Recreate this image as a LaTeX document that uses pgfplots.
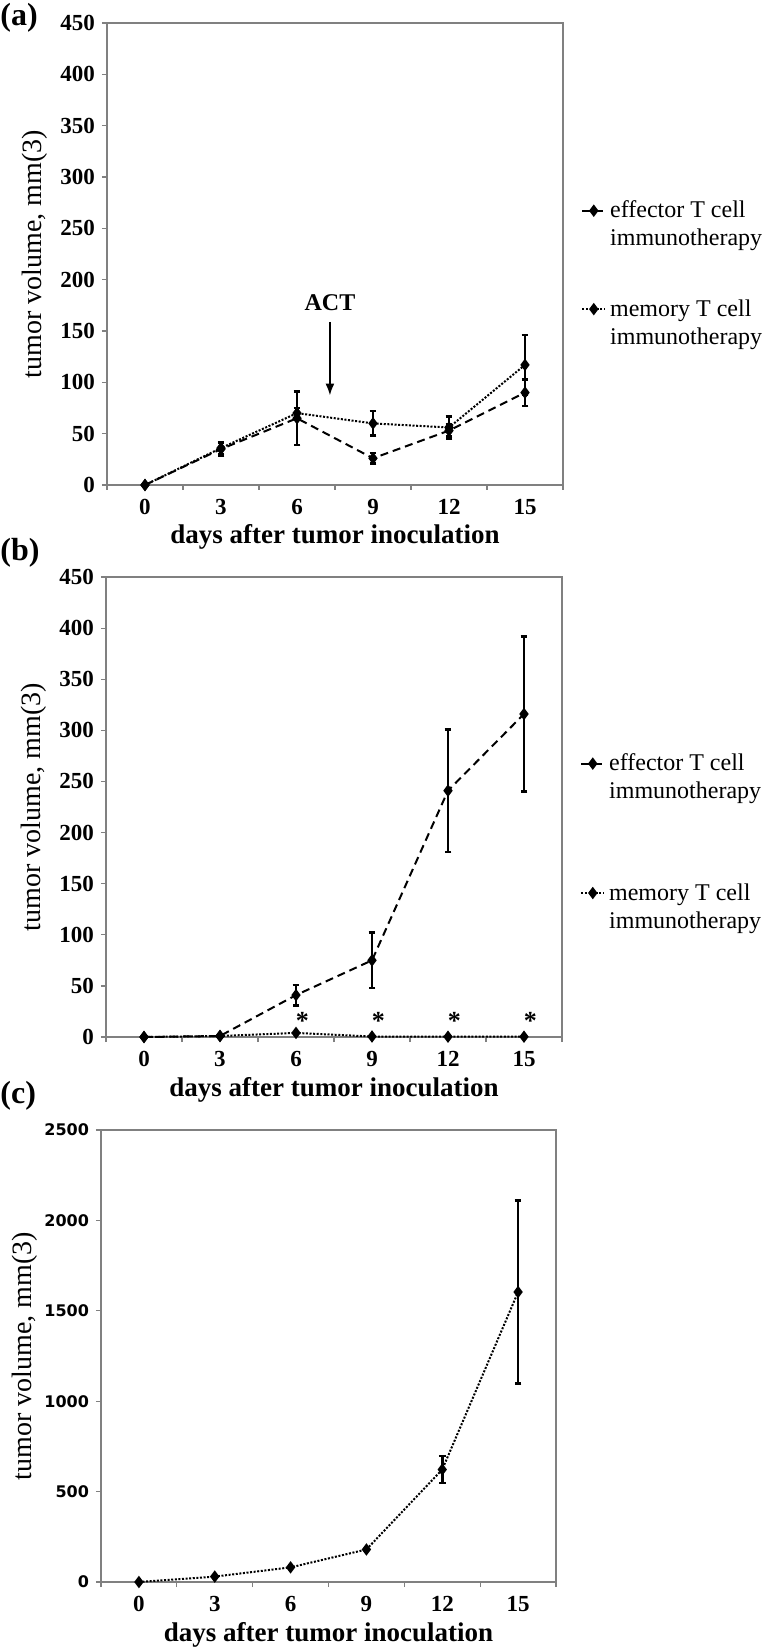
\documentclass[border=0pt]{standalone}
\usepackage{fontspec}
\setmainfont{Liberation Serif}
\newfontfamily\dvsans{DejaVu Sans}
\usepackage{pgfplots}
\usepackage{pgfplotstable}
\pgfplotsset{compat=1.18}
\usetikzlibrary{arrows.meta}

\pgfplotstableread{
x y e
0 0 0
3 35 6
6 65 26
9 26 5
12 53 6
15 90 13
}\effA
\pgfplotstableread{
x y e
0 0 0
3 36 6
6 70 5
9 60 12
12 56 11
15 117 29
}\memA
\pgfplotstableread{
x y e
0 0 0
3 1 0
6 41 10
9 75 27
12 241 60
15 316 76
}\effB
\pgfplotstableread{
x y e
0 0 0
3 1 0
6 4 0
9 0.5 0
12 0.3 0
15 0.3 0
}\memB
\pgfplotstableread{
x y e
0 0 0
3 30 0
6 81 0
9 180 0
12 622 74
15 1604 506
}\memC

\definecolor{axgray}{RGB}{128,128,128}
\newcommand{\twolines}[2]{\begin{tabular}[t]{@{}l@{}}#1\\#2\end{tabular}}

\pgfplotsset{
  panel/.style={
    scale only axis,
    xmin=-1.5, xmax=16.5, ymin=0,
    xtick={0,3,6,9,12,15},
    minor xtick={-1.5,1.5,4.5,7.5,10.5,13.5,16.5},
    major x tick style={draw=none},
    tick pos=left, tick align=outside,
    major tick length=2.5pt, minor tick length=2.5pt,
    axis line style={axgray, line width=0.6pt},
    every tick/.style={axgray, line width=0.6pt},
    /pgf/number format/assume math mode=true,
    /pgf/number format/1000 sep={},
    tick label style={font=\fontsize{11.5}{13}\selectfont\bfseries},
    xticklabel shift=1pt,
    xlabel={days after tumor inoculation},
    xlabel style={font=\fontsize{13.5}{16}\selectfont\bfseries, at={(axis description cs:0.5,0)}, anchor=base, yshift=-29.5pt},
    ylabel={tumor volume, mm(3)},
    ylabel style={font=\fontsize{14}{16}\selectfont, at={(axis description cs:-0.158,0.5)}, anchor=center},
    legend cell align=left,
    legend style={draw=none, fill=none, font=\fontsize{12}{14}\selectfont, cells={anchor=base west}},
    legend image code/.code={\draw[mark repeat=2, mark phase=2, yshift=3.5pt, #1] plot coordinates {(0cm,0cm) (0.2cm,0cm) (0.4cm,0cm)};},
    error bars/y dir=both, error bars/y explicit,
    error bars/error bar style={solid, black, line width=1.3pt},
    error bars/error mark options={solid, black, line width=1.3pt, mark size=1.7pt, rotate=90},
  },
  effector/.style={black, line width=1pt, dash pattern=on 4pt off 2.5pt, mark=diamond*, mark size=2.3pt, mark options={solid}},
  memory/.style={black, line width=1pt, dash pattern=on 1pt off 0.8pt, mark=diamond*, mark size=2.3pt, mark options={solid}},
}

\begin{document}
\begin{tikzpicture}
\useasboundingbox (0,0) rectangle (386pt,-825pt);

\node[anchor=west, inner sep=0pt, font=\fontsize{16}{18}\selectfont\bfseries] at (0pt,-9pt) {(a)};
\node[anchor=west, inner sep=0pt, font=\fontsize{16}{18}\selectfont\bfseries] at (0pt,-276.5pt) {(b)};
\node[anchor=west, inner sep=0pt, font=\fontsize{16}{18}\selectfont\bfseries] at (0pt,-548pt) {(c)};

\begin{axis}[panel, at={(53.5pt,-11.5pt)}, anchor=north west,
  width=228pt, height=231pt, ymax=450, ytick={0,50,...,450},
  legend style={at={(1,0.490)}, anchor=west, xshift=6pt, row sep=33.9pt}]
\addplot[effector] table[x=x, y=y, y error=e] {\effA};
\addlegendentry{\twolines{effector T cell}{immunotherapy}}
\addplot[memory] table[x=x, y=y, y error=e] {\memA};
\addlegendentry{\twolines{memory T cell}{immunotherapy}}
\node[font=\fontsize{12}{13}\selectfont\bfseries] at (axis cs:7.3,178) {ACT};
\draw[black, line width=1.1pt, -{Latex[length=6pt, width=4.5pt]}] (axis cs:7.3,159) -- (axis cs:7.3,87);
\end{axis}

\begin{axis}[panel, at={(53pt,-288.5pt)}, anchor=north west,
  width=228pt, height=230pt, ymax=450, ytick={0,50,...,450},
  legend style={at={(1,0.4565)}, anchor=west, xshift=6pt, row sep=49.4pt}]
\addplot[effector] table[x=x, y=y, y error=e] {\effB};
\addlegendentry{\twolines{effector T cell}{immunotherapy}}
\addplot[memory] table[x=x, y=y, y error=e] {\memB};
\addlegendentry{\twolines{memory T cell}{immunotherapy}}
\node[font=\fontsize{13}{13}\selectfont\bfseries, inner sep=0pt] at (axis cs:6.25,16) {*};
\node[font=\fontsize{13}{13}\selectfont\bfseries, inner sep=0pt] at (axis cs:9.25,16) {*};
\node[font=\fontsize{13}{13}\selectfont\bfseries, inner sep=0pt] at (axis cs:12.25,16) {*};
\node[font=\fontsize{13}{13}\selectfont\bfseries, inner sep=0pt] at (axis cs:15.25,16) {*};
\end{axis}

\begin{axis}[panel, at={(50.5pt,-565pt)}, anchor=north west,
  width=227.5pt, height=226pt, ymax=2500, ytick={0,500,...,2500},
  yticklabel style={font=\dvsans\fontsize{8}{10}\selectfont\bfseries},
  ylabel style={at={(axis description cs:-0.168,0.5)}}]
\addplot[memory] table[x=x, y=y, y error=e] {\memC};
\end{axis}
\end{tikzpicture}
\end{document}
